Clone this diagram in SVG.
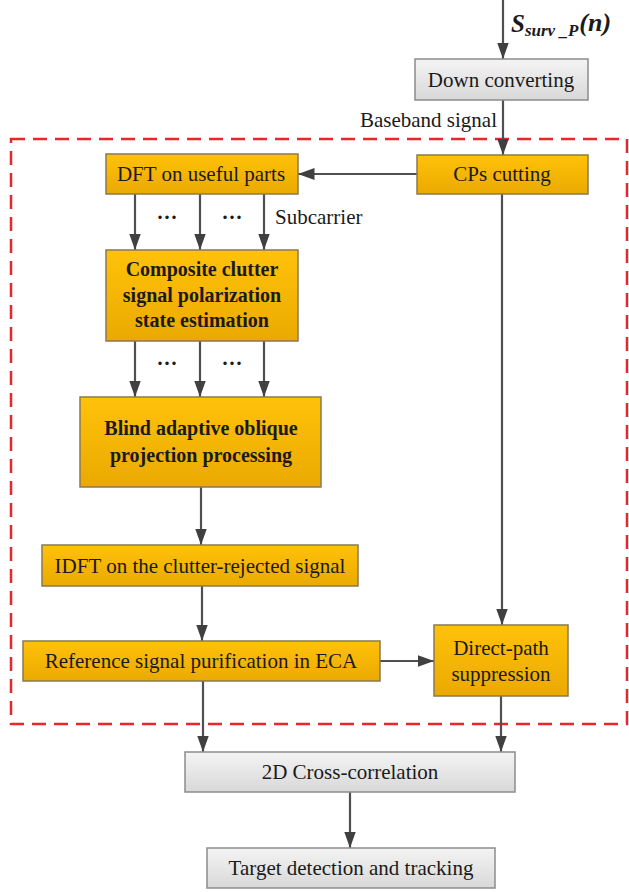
<svg xmlns="http://www.w3.org/2000/svg" width="629" height="892" viewBox="0 0 629 892">
<defs>
<linearGradient id="gOr" x1="0" y1="0" x2="0" y2="1"><stop offset="0" stop-color="#ffc20a"/><stop offset="1" stop-color="#eba900"/></linearGradient>
<linearGradient id="gGr" x1="0" y1="0" x2="0" y2="1"><stop offset="0" stop-color="#f4f4f4"/><stop offset="1" stop-color="#d8d8d8"/></linearGradient>
<marker id="ah" viewBox="0 0 14 10" refX="14" refY="5" markerWidth="7.5" markerHeight="5.4" markerUnits="strokeWidth" orient="auto"><path d="M0,0 L14,5 L0,10 z" fill="#404040"/></marker>
</defs>
<style>
.or{fill:url(#gOr);stroke:#8a7a50;stroke-width:1.5}
.gr{fill:url(#gGr);stroke:#8c8c8c;stroke-width:1.5}
text{font-family:'Liberation Serif','Times New Roman','DejaVu Serif',serif;fill:#1a1a1a}
.t{font-size:21px;text-anchor:middle}
.b{font-weight:bold;font-size:20px}
.l{font-size:21px}
.c line{stroke:#505050;stroke-width:2.2;marker-end:url(#ah)}
</style>
<rect x="11" y="139" width="616" height="585" fill="none" stroke="#e8262b" stroke-width="2.5" stroke-dasharray="14 8"/>
<g class="c" id="connectors">
<line x1="503" y1="0" x2="503" y2="59"/>
<line x1="503" y1="100" x2="503" y2="155"/>
<line x1="417" y1="174" x2="298" y2="174"/>
<line x1="135" y1="194" x2="135" y2="250"/>
<line x1="200" y1="194" x2="200" y2="250"/>
<line x1="264" y1="194" x2="264" y2="250"/>
<line x1="135" y1="341" x2="135" y2="397"/>
<line x1="200" y1="341" x2="200" y2="397"/>
<line x1="264" y1="341" x2="264" y2="397"/>
<line x1="201" y1="487" x2="201" y2="545"/>
<line x1="202" y1="586" x2="202" y2="641"/>
<line x1="380" y1="661" x2="434" y2="661"/>
<line x1="502" y1="194" x2="502" y2="625"/>
<line x1="203" y1="681" x2="203" y2="752"/>
<line x1="501" y1="696" x2="501" y2="752"/>
<line x1="350" y1="792" x2="350" y2="848"/>
</g>
<text x="511" y="32" font-style="italic" font-weight="bold" font-size="25">S<tspan font-size="17" dy="4">surv _P</tspan><tspan dy="-5" dx="1" font-size="26">(n)</tspan></text>
<text class="l" x="497" y="127" text-anchor="end">Baseband signal</text>
<text class="l" x="275" y="224">Subcarrier</text>
<text class="l" x="167" y="224" text-anchor="middle" font-weight="bold">···</text>
<text class="l" x="232" y="224" text-anchor="middle" font-weight="bold">···</text>
<text class="l" x="167" y="370" text-anchor="middle" font-weight="bold">···</text>
<text class="l" x="232" y="370" text-anchor="middle" font-weight="bold">···</text>
<g id="down"><rect class="gr" x="415" y="59" width="173" height="41"/><text class="t" x="501" y="87">Down converting</text></g>
<g id="cps"><rect class="or" x="417" y="155" width="171" height="39"/><text class="t" x="502" y="181">CPs cutting</text></g>
<g id="dft"><rect class="or" x="106" y="154" width="192" height="40"/><text class="t" x="201" y="181">DFT on useful parts</text></g>
<g id="composite"><rect class="or" x="106" y="250" width="192" height="91"/><text class="t b" x="202" y="276">Composite clutter</text><text class="t b" x="202" y="302">signal polarization</text><text class="t b" x="202" y="327">state estimation</text></g>
<g id="blind"><rect class="or" x="80" y="397" width="241" height="90"/><text class="t b" x="201" y="435">Blind adaptive oblique</text><text class="t b" x="201" y="462">projection processing</text></g>
<g id="idft"><rect class="or" x="42" y="545" width="316" height="41"/><text class="t" x="200" y="573">IDFT on the clutter-rejected signal</text></g>
<g id="ref"><rect class="or" x="23" y="641" width="357" height="40"/><text class="t" x="201" y="668">Reference signal purification in ECA</text></g>
<g id="dps"><rect class="or" x="434" y="625" width="134" height="71"/><text class="t" x="501" y="655">Direct-path</text><text class="t" x="501" y="681">suppression</text></g>
<g id="xcorr"><rect class="gr" x="185" y="752" width="330" height="40"/><text class="t" x="350" y="779">2D Cross-correlation</text></g>
<g id="target"><rect class="gr" x="207" y="848" width="288" height="40"/><text class="t" x="351" y="875">Target detection and tracking</text></g>
</svg>
